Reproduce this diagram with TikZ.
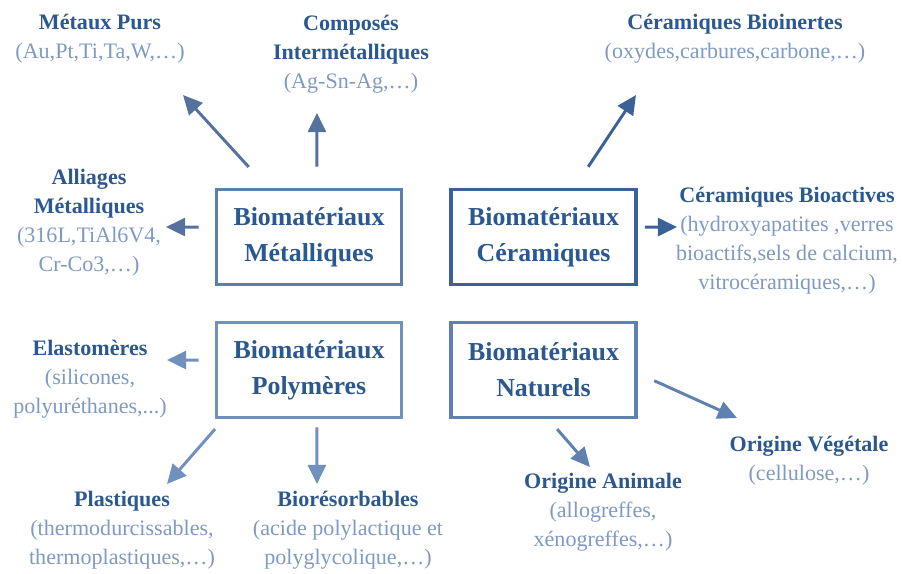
\documentclass[tikz,border=0pt]{standalone}
\usepackage{fontspec}
\setmainfont{Liberation Serif}
\usetikzlibrary{arrows.meta}
\definecolor{titblue}{HTML}{2C5890}
\definecolor{txtblue}{HTML}{7F9AC2}
\definecolor{metblue}{HTML}{5D7FAF}
\definecolor{cerblue}{HTML}{3A6198}
\definecolor{polblue}{HTML}{7090BE}
\definecolor{natblue}{HTML}{5F81B1}
\newlength{\pxu}
\setlength{\pxu}{0.025cm}
\newcommand{\ttl}[1]{{\color{titblue}\bfseries #1}}
\begin{document}
\begin{tikzpicture}
  [ x=0.025cm, y=-0.025cm,
    famille/.style={draw=metblue, line width=2.6pt, minimum width=185\pxu,
    minimum height=95\pxu, align=center, text=titblue,
    font=\fontsize{18.4}{25.5}\selectfont\bfseries},
    sorte/.style={align=center, text=txtblue, inner sep=0pt,
    font=\fontsize{15.7}{20.6}\selectfont},
    fl/.style={line width=2.1pt, -{Triangle[length=0.48cm, width=0.45cm]}}
  ]
  \useasboundingbox (0,0) rectangle (902,573);

  % boites centrales
  \node (bMet) at (309.0,237) [famille] {Biomatériaux\\Métalliques};
  \node (bCer) at (543.5,237) [famille, draw=cerblue] {Biomatériaux\\Céramiques};
  \node (bPol) at (309.0,370) [famille, draw=polblue] {Biomatériaux\\Polymères};
  \node (bNat) at (543.5,370) [famille, draw=natblue] {Biomatériaux\\Naturels};

  % familles
  \node (tPurs) at (100,39) [sorte] {\ttl{Métaux Purs}\\(Au,Pt,Ti,Ta,W,…)};
  \node (tComp) at (351,54) [sorte] {\ttl{Composés}\\\ttl{Intermétalliques}\\(Ag-Sn-Ag,…)};
  \node (tAlli) at (89,223) [sorte] {\ttl{Alliages}\\\ttl{Métalliques}\\(316L,TiAl6V4,\\Cr-Co3,…)};
  \node (tIner) at (735,39) [sorte] {\ttl{Céramiques Bioinertes}\\(oxydes,carbures,carbone,…)};
  \node (tActi) at (787,240.5) [sorte] {\ttl{Céramiques Bioactives}\\(hydroxyapatites ,verres\\bioactifs,sels de calcium,\\vitrocéramiques,…)};
  \node (tElas) at (90,379.5) [sorte] {\ttl{Elastomères}\\(silicones,\\polyuréthanes,...)};
  \node (tPlas) at (122,530) [sorte] {\ttl{Plastiques}\\(thermodurcissables,\\thermoplastiques,…)};
  \node (tReso) at (348,530) [sorte] {\ttl{Biorésorbables}\\(acide polylactique et\\polyglycolique,…)};
  \node (tAnim) at (603,512.5) [sorte] {\ttl{Origine Animale}\\(allogreffes,\\xénogreffes,…)};
  \node (tVege) at (809,460.5) [sorte] {\ttl{Origine Végétale}\\(cellulose,…)};

  % pointes des fleches
  \coordinate (pPurs) at (183,95);
  \coordinate (pComp) at (317,113);
  \coordinate (pAlli) at (166,227);
  \coordinate (pIner) at (636,95);
  \coordinate (pActi) at (677,227);
  \coordinate (pElas) at (167,360);
  \coordinate (pPlas) at (167,484);
  \coordinate (pReso) at (317,484);
  \coordinate (pAnim) at (590,467);
  \coordinate (pVege) at (737,418);

  \draw [fl, draw=metblue!90!black, fill=metblue!90!black, shorten <=28\pxu] (bMet.130) -- (pPurs);
  \draw [fl, draw=metblue!90!black, fill=metblue!90!black, shorten <=21\pxu] (bMet.81) -- (pComp);
  \draw [fl, draw=metblue!90!black, fill=metblue!90!black, shorten <=16\pxu] (bMet.174) -- (pAlli);

  \draw [fl, draw=cerblue, fill=cerblue, shorten <=25\pxu] (bCer.58) -- (pIner);
  \draw [fl, draw=cerblue, fill=cerblue, shorten <=7\pxu] (bCer.6) -- (pActi);

  \draw [fl, draw=polblue, fill=polblue, shorten <=16\pxu] (bPol.174) -- (pElas);
  \draw [fl, draw=polblue, fill=polblue, shorten <=13\pxu] (bPol.210) -- (pPlas);
  \draw [fl, draw=polblue, fill=polblue, shorten <=8\pxu] (bPol.279) -- (pReso);

  \draw [fl, draw=natblue, fill=natblue, shorten <=13\pxu] (bNat.276) -- (pAnim);
  \draw [fl, draw=natblue, fill=natblue, shorten <=18\pxu] (bNat.358.5) -- (pVege);
\end{tikzpicture}
\end{document}
